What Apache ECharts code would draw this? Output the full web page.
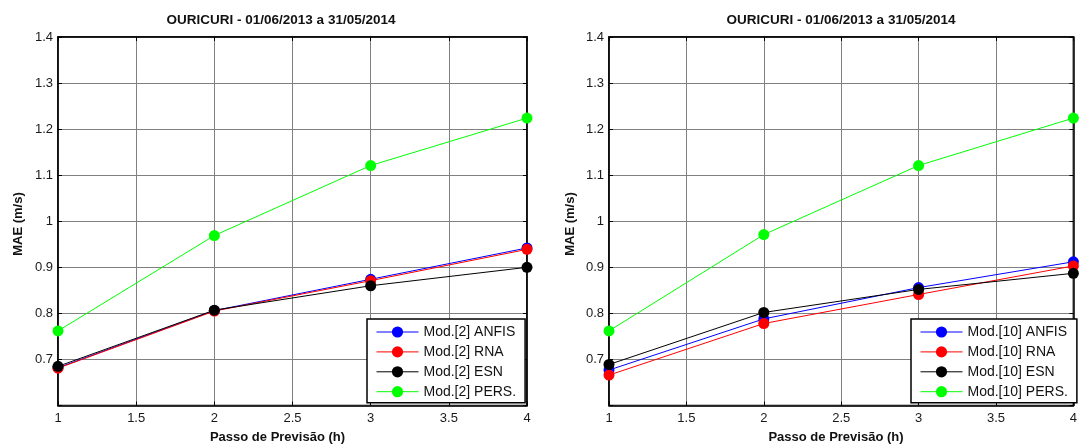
<!DOCTYPE html>
<html>
<head>
<meta charset="utf-8">
<script src="https://cdn.jsdelivr.net/npm/echarts@6/dist/echarts.min.js"></script>
<style>
html,body{margin:0;padding:0;background:#fff;}
#chart{width:1080px;height:444px;}
</style>
</head>
<body>
<div id="chart"></div>
<script>
// ---- data ----
var steps = [1, 2, 3, 4];
var xTicks = [1, 1.5, 2, 2.5, 3, 3.5, 4];
var yTicks = [0.7, 0.8, 0.9, 1, 1.1, 1.2, 1.3, 1.4];

var namesLeft = ['Mod.[2] ANFIS', 'Mod.[2] RNA', 'Mod.[2] ESN', 'Mod.[2] PERS.'];
var anfis2 = [0.682, 0.806, 0.874, 0.942];
var rna2   = [0.681, 0.805, 0.871, 0.939];
var esn2   = [0.685, 0.807, 0.860, 0.900];
var pers2  = [0.762, 0.969, 1.121, 1.224];

var namesRight = ['Mod.[10] ANFIS', 'Mod.[10] RNA', 'Mod.[10] ESN', 'Mod.[10] PERS.'];
var anfis10 = [0.677, 0.788, 0.856, 0.912];
var rna10   = [0.666, 0.778, 0.841, 0.903];
var esn10   = [0.689, 0.802, 0.852, 0.887];
var pers10  = [0.762, 0.971, 1.121, 1.224];

var titleText = 'OURICURI - 01/06/2013 a 31/05/2014';
var xName = 'Passo de Previsão (h)';
var yName = 'MAE (m/s)';

var colors = ['#0000ff', '#ff0000', '#000000', '#00ff00'];
var FONT = "'Liberation Sans', Arial, sans-serif";

function pairs(vals) { return steps.map(function (s, i) { return [s, vals[i]]; }); }

var grids = [
  { left: 58, top: 37, width: 469, height: 368.5, show: true, borderColor: '#000', borderWidth: 1.5, backgroundColor: '#fff' },
  { left: 609, top: 37, width: 469, height: 368.5, show: true, borderColor: '#000', borderWidth: 1.5, backgroundColor: '#fff' }
];

function xAxisFor(gi, pos, showLabel) {
  return {
    type: 'value', gridIndex: gi, position: pos, min: 1, max: 4, interval: 0.5,
    axisLine: { show: true, lineStyle: { color: '#000', width: 1.5 } },
    axisTick: { show: true, inside: true, length: 4, lineStyle: { color: '#000' } },
    axisLabel: { show: showLabel, color: '#1a1a1a', fontSize: 13, fontFamily: FONT, margin: 6 },
    splitLine: { show: showLabel, lineStyle: { color: '#808080', width: 1 } }
  };
}
function yAxisFor(gi, pos, showLabel) {
  return {
    type: 'value', gridIndex: gi, position: pos, min: 0.6, max: 1.4, interval: 0.1,
    axisLine: { show: true, lineStyle: { color: '#000', width: 1.5 } },
    axisTick: { show: true, inside: true, length: 4, lineStyle: { color: '#000' } },
    axisLabel: { show: showLabel, color: '#1a1a1a', fontSize: 13, fontFamily: FONT, margin: 5,
      formatter: function (v) { return v < 0.65 ? '' : String(Math.round(v * 10) / 10); } },
    splitLine: { show: showLabel, lineStyle: { color: '#808080', width: 1 } }
  };
}

var xAxes = [xAxisFor(0, 'bottom', true), xAxisFor(0, 'top', false), xAxisFor(1, 'bottom', true), xAxisFor(1, 'top', false)];
var yAxes = [yAxisFor(0, 'left', true), yAxisFor(0, 'right', false), yAxisFor(1, 'left', true), yAxisFor(1, 'right', false)];

function mkSeries(name, vals, ci, xi, yi) {
  return {
    type: 'line', name: name, data: pairs(vals), xAxisIndex: xi, yAxisIndex: yi,
    symbol: 'circle', symbolSize: 11, clip: false, animation: false,
    lineStyle: { color: colors[ci], width: 1 },
    itemStyle: { color: colors[ci] }
  };
}

var leftVals = [anfis2, rna2, esn2, pers2];
var rightVals = [anfis10, rna10, esn10, pers10];
var series = [];
namesLeft.forEach(function (n, i) { series.push(mkSeries(n, leftVals[i], i, 0, 0)); });
namesRight.forEach(function (n, i) { series.push(mkSeries(n, rightVals[i], i, 2, 2)); });

function legendFor(names, left) {
  return {
    data: names, orient: 'vertical', left: left, top: 319,
    itemWidth: 42, itemHeight: 14, itemGap: 5.9,
    padding: [6, 9, 4, 9],
    lineStyle: { width: 1 },
    backgroundColor: '#fff', borderColor: '#000', borderWidth: 1.5, borderRadius: 0,
    textStyle: { fontSize: 14, fontFamily: FONT, color: '#111', lineHeight: 14 },
    selectedMode: false
  };
}

function txt(x, y, s, rot) {
  return {
    type: 'text', x: x, y: y, rotation: rot || 0, z: 10,
    style: { text: s, fontSize: 13, fontWeight: 'bold', fontFamily: FONT, fill: '#111', textAlign: 'center', textVerticalAlign: 'middle' }
  };
}

var graphics = [
  txt(281, 20, titleText), txt(841, 20, titleText),
  txt(277.5, 437, xName), txt(836, 437, xName),
  txt(18, 224, yName, Math.PI / 2), txt(570, 224, yName, Math.PI / 2)
];
graphics[0].style.fontSize = 13.5; graphics[1].style.fontSize = 13.5;

var chart = echarts.init(document.getElementById('chart'), null, { renderer: 'canvas' });
chart.setOption({
  animation: false,
  backgroundColor: '#fff',
  grid: grids,
  xAxis: xAxes,
  yAxis: yAxes,
  legend: [legendFor(namesLeft, 367), legendFor(namesRight, 911)],
  series: series,
  graphic: graphics
});
</script>
</body>
</html>
